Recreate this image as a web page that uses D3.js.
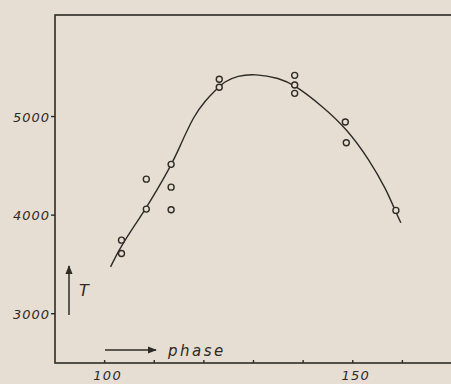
<!DOCTYPE html>
<html>
<head>
<meta charset="utf-8">
<script src="https://cdn.jsdelivr.net/npm/d3@7/dist/d3.min.js"></script>
<style>
  body { margin: 0; background: #e7ded3; }
  svg { display: block; }
  .lbl { font-family: "DejaVu Sans", sans-serif; font-style: italic; fill: #2e2a26; }
</style>
</head>
<body>
<svg id="chart" width="451" height="384"></svg>
<script>

// observed points (phase, T)
var obsPhase = [103.4, 103.4, 108.4, 108.4, 113.4, 113.4, 113.4, 123.1, 123.1, 138.3, 138.3, 138.3, 148.5, 148.7, 158.7];
var obsT     = [3746, 3611, 4365, 4061, 4515, 4284, 4054, 5378, 5297, 5418, 5320, 5235, 4944, 4734, 4048];

// fitted curve
var curvePhase = [101.2, 103.4, 108.3, 113.3, 115.2, 117.9, 120.4, 122.4, 124.1, 126.8, 130.3, 135.2, 138.3, 144.0, 148.7, 153.4, 156.8, 158.5, 159.7];
var curveT     = [3475, 3700, 4060, 4490, 4700, 5003, 5168, 5269, 5354, 5415, 5433, 5390, 5320, 5100, 4880, 4558, 4254, 4051, 3922];

var xTicks = [100, 110, 120, 130, 140, 150, 160];
var xLabels = [100, 150];
var yTicks = [3000, 4000, 5000];

var ink = "#2e2a26";
var margin = { top: 15, right: -1, bottom: 21, left: 55 };
var svg = d3.select("#chart");
var W = 451, H = 384;

var x = d3.scaleLinear().domain([90, 170]).range([margin.left, W - margin.right]);
var y = d3.scaleLinear().domain([2500, 6030]).range([H - margin.bottom, margin.top]);

// frame
svg.append("rect")
  .attr("x", x(90)).attr("y", y(6030))
  .attr("width", x(170) - x(90)).attr("height", y(2500) - y(6030))
  .attr("fill", "none").attr("stroke", ink).attr("stroke-width", 1.6);

// x ticks (small, inward)
svg.append("g").selectAll("line").data(xTicks).enter().append("line")
  .attr("x1", d => x(d)).attr("x2", d => x(d))
  .attr("y1", y(2500)).attr("y2", y(2500) - 3)
  .attr("stroke", ink).attr("stroke-width", 1.4);

svg.append("g").selectAll("text").data(xLabels).enter().append("text")
  .attr("class", "lbl")
  .attr("x", d => x(d) + 3).attr("y", 380)
  .attr("text-anchor", "middle")
  .style("font-size", "13px").style("letter-spacing", "1.3px")
  .text(d => d);

// y ticks (outward)
svg.append("g").selectAll("line").data(yTicks).enter().append("line")
  .attr("x1", x(90) - 4).attr("x2", x(90))
  .attr("y1", d => y(d)).attr("y2", d => y(d))
  .attr("stroke", ink).attr("stroke-width", 1.4);

svg.append("g").selectAll("text").data(yTicks).enter().append("text")
  .attr("class", "lbl")
  .attr("x", x(90) - 5).attr("y", d => y(d) + 5)
  .attr("text-anchor", "end")
  .style("font-size", "13px").style("letter-spacing", "1px")
  .text(d => d);

// fitted curve
var line = d3.line()
  .x((d, i) => x(curvePhase[i]))
  .y((d, i) => y(curveT[i]))
  .curve(d3.curveBasis);

svg.append("path")
  .datum(curveT)
  .attr("d", line)
  .attr("fill", "none").attr("stroke", ink).attr("stroke-width", 1.4);

// observations
svg.append("g").selectAll("circle").data(obsT).enter().append("circle")
  .attr("cx", (d, i) => x(obsPhase[i]))
  .attr("cy", d => y(d))
  .attr("r", 3)
  .attr("fill", "#e7ded3").attr("stroke", ink).attr("stroke-width", 1.4);

// axis arrows
var defs = svg.append("defs");
defs.append("marker").attr("id", "ah")
  .attr("viewBox", "0 0 10 10").attr("refX", 9).attr("refY", 5)
  .attr("markerWidth", 6).attr("markerHeight", 6).attr("orient", "auto")
  .append("path").attr("d", "M0,1 L10,5 L0,9 Z").attr("fill", ink);

svg.append("line")
  .attr("x1", 69).attr("x2", 69).attr("y1", 315).attr("y2", 266)
  .attr("stroke", ink).attr("stroke-width", 1.5).attr("marker-end", "url(#ah)");
svg.append("text").attr("class", "lbl")
  .attr("x", 79).attr("y", 296).style("font-size", "16px").text("T");

svg.append("line")
  .attr("x1", 105).attr("x2", 156).attr("y1", 350).attr("y2", 350)
  .attr("stroke", ink).attr("stroke-width", 1.5).attr("marker-end", "url(#ah)");
svg.append("text").attr("class", "lbl")
  .attr("x", 168).attr("y", 356).style("font-size", "15px").style("letter-spacing", "2.5px")
  .text("phase");

</script>
</body>
</html>
